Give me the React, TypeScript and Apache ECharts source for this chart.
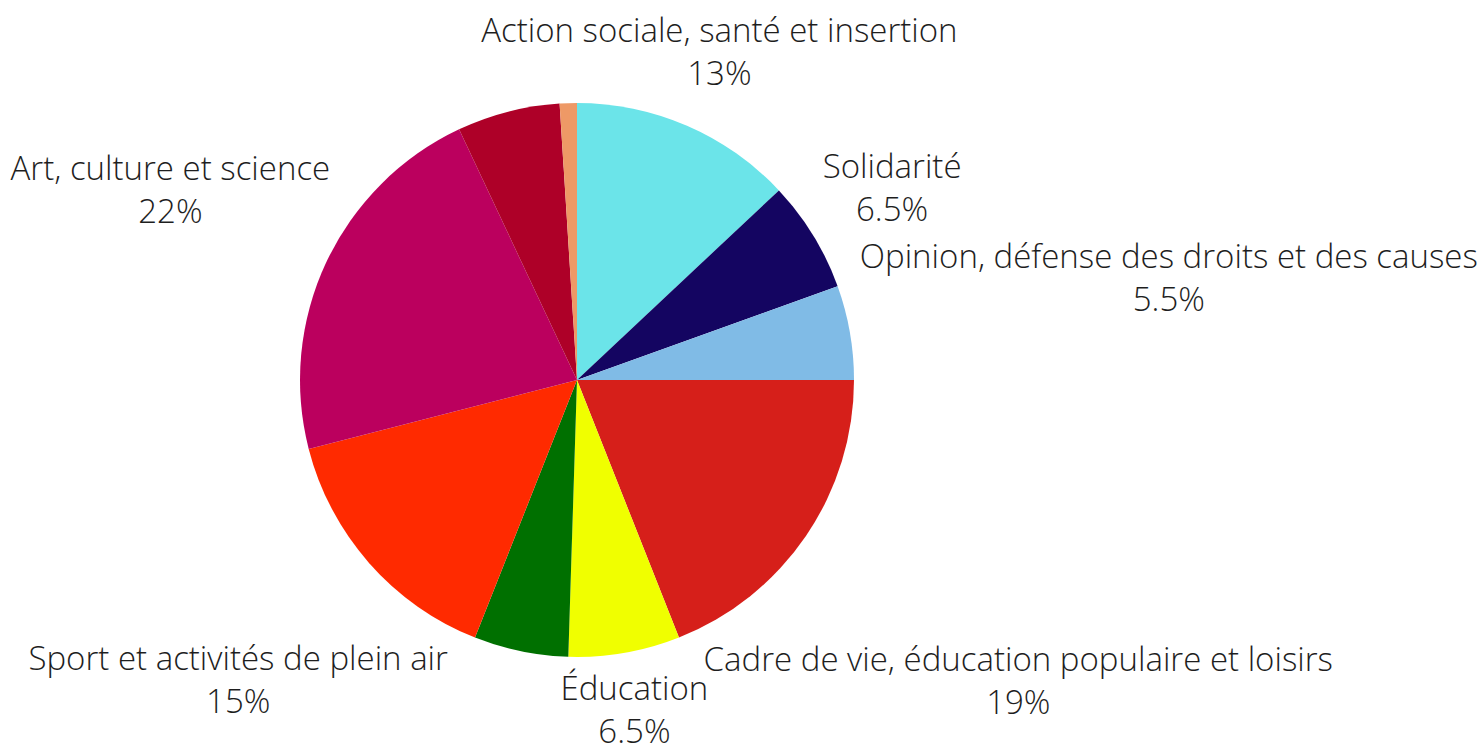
import React, { useEffect, useRef } from "react";
import * as echarts from "echarts";

const categories = [
  "Action sociale, santé et insertion",
  "Solidarité",
  "Opinion, défense des droits et des causes",
  "Cadre de vie, éducation populaire et loisirs",
  "Éducation",
  "Autre (vert)",
  "Sport et activités de plein air",
  "Art, culture et science",
  "Autre (rouge)",
  "Autre (saumon)",
];
const values = [13, 6.5, 5.5, 19, 6.5, 5.5, 15, 22, 6, 1];
const showLabel = [true, true, true, true, true, false, true, true, false, false];
const colors = [
  "#6be4e9",
  "#140561",
  "#80bbe6",
  "#d61f1a",
  "#f0ff00",
  "#007000",
  "#ff2a00",
  "#bb005e",
  "#ae0028",
  "#ee9966",
];

const CX = 577;
const CY = 380;
const R = 277;
const GAP = 13;

export default function App() {
  const ref = useRef<HTMLDivElement>(null);
  useEffect(() => {
    if (!ref.current) return;
    const chart = echarts.init(ref.current, null, { renderer: "svg" });
    const total = values.reduce((a, b) => a + b, 0);
    const midAngles: number[] = [];
    let acc = 0;
    values.forEach((v) => {
      midAngles.push(((acc + v / 2) / total) * Math.PI * 2);
      acc += v;
    });
    const layout = (p: any) => {
      const idx = p.dataIndex;
      const a = midAngles[idx];
      const ux = Math.sin(a);
      const uy = -Math.cos(a);
      const hw = p.labelRect.width / 2;
      const hh = p.labelRect.height / 2 - 4;
      const nearest = (d: number) => {
        const cx = d * ux;
        const cy = d * uy;
        const nx = Math.max(Math.abs(cx) - hw, 0);
        const ny = Math.max(Math.abs(cy) - hh, 0);
        return Math.sqrt(nx * nx + ny * ny);
      };
      let lo = 0;
      let hi = 2000;
      for (let i = 0; i < 60; i++) {
        const m = (lo + hi) / 2;
        if (nearest(m) < R + GAP) lo = m;
        else hi = m;
      }
      return {
        x: CX + hi * ux,
        y: CY + hi * uy,
        align: "center",
        verticalAlign: "middle",
      };
    };
    chart.setOption({
      animation: false,
      backgroundColor: "#ffffff",
      series: [
        {
          type: "pie",
          center: [CX, CY],
          radius: R,
          startAngle: 90,
          clockwise: true,
          avoidLabelOverlap: false,
          label: {
            show: true,
            position: "outside",
            formatter: (p: any) => `${p.name}\n${p.value}%`,
            fontFamily: "Open Sans",
            fontWeight: 300,
            fontSize: 33,
            lineHeight: 43,
            color: "#1e1e1e",
            align: "center",
          },
          labelLine: { show: false },
          labelLayout: layout,
          itemStyle: { borderWidth: 0 },
          emphasis: { disabled: true },
          data: categories.map((c, i) => ({
            name: c,
            value: values[i],
            itemStyle: { color: colors[i] },
            label: { show: showLabel[i] },
          })),
        },
      ],
    });
    return () => chart.dispose();
  }, []);
  return (
    <div
      ref={ref}
      style={{ position: "fixed", left: 0, top: 0, width: 1480, height: 746 }}
    />
  );
}
